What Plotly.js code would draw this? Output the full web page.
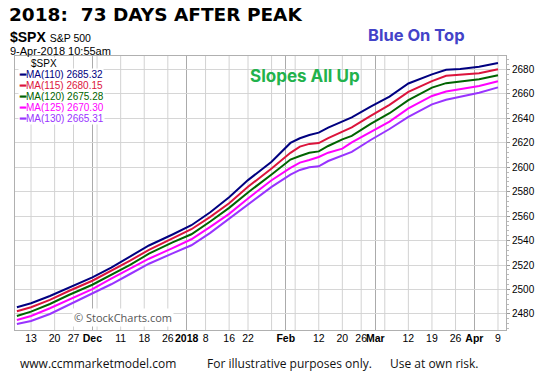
<!DOCTYPE html>
<html>
<head>
<meta charset="utf-8">
<script src="https://cdn.plot.ly/plotly-3.0.1.min.js"></script>
<style>html,body{margin:0;padding:0;background:#fff;}#chart{width:548px;height:376px;}</style>
</head>
<body>
<div id="chart"></div>
<script>
// ---- data ----
const sampleDates = ['2017-11-08','2017-11-13','2017-11-17','2017-11-24','2017-12-01','2017-12-07','2017-12-13','2017-12-19','2017-12-27','2018-01-03','2018-01-09','2018-01-16','2018-01-22','2018-01-29','2018-02-02','2018-02-06','2018-02-08','2018-02-12','2018-02-14','2018-02-20','2018-02-22','2018-02-28','2018-03-06','2018-03-12','2018-03-19','2018-03-22','2018-03-27','2018-04-03','2018-04-09'];
const ma110 = [2485.5,2488.8,2494.7,2501.5,2510.0,2518.0,2526.9,2536.0,2545.0,2552.6,2563.2,2575.5,2589.5,2604.5,2619.9,2623.7,2626.4,2628.3,2632.5,2637.8,2640.8,2649.6,2657.8,2668.5,2676.0,2679.7,2680.4,2682.3,2685.32];
const ma115 = [2482.2,2485.5,2491.5,2498.8,2507.2,2515.2,2523.6,2532.5,2542.0,2549.3,2559.4,2570.5,2584.0,2599.0,2611.8,2616.9,2619.1,2619.8,2623.9,2628.8,2632.6,2642.0,2651.0,2661.6,2670.5,2674.8,2675.5,2676.9,2680.15];
const ma120 = [2478.4,2481.9,2488.2,2495.5,2503.9,2511.9,2520.1,2529.3,2538.6,2545.2,2555.6,2566.8,2579.4,2594.1,2606.3,2609.2,2611.9,2613.0,2617.4,2622.8,2625.7,2635.4,2644.2,2654.9,2665.1,2668.8,2670.0,2672.0,2675.28];
const ma125 = [2475.1,2478.4,2484.7,2491.5,2500.4,2509.0,2516.8,2525.2,2533.9,2541.1,2551.2,2561.9,2574.5,2589.4,2599.5,2603.8,2606.0,2608.4,2611.9,2615.2,2620.3,2629.1,2637.3,2648.1,2658.3,2661.9,2663.8,2666.5,2670.30];
const ma130 = [2471.8,2474.3,2480.0,2487.4,2496.3,2504.3,2512.7,2521.1,2529.6,2536.2,2546.3,2557.8,2569.5,2584.0,2594.0,2597.8,2600.0,2600.8,2605.1,2609.7,2612.6,2622.3,2631.3,2641.2,2651.5,2655.2,2657.8,2661.0,2665.31];
const periods = [110,115,120,125,130];
const seriesColors = ['#000080','#dc143c','#006400','#ff00ff','#9933ff'];

const holidays = ['2017-11-23','2017-12-25','2018-01-01','2018-01-15','2018-02-19','2018-03-30'];
const tickDates = ['2017-11-13','2017-11-20','2017-11-27','2017-12-01','2017-12-11','2017-12-18','2017-12-26','2018-01-02','2018-01-08','2018-01-16','2018-01-22','2018-02-01','2018-02-12','2018-02-20','2018-02-26','2018-03-01','2018-03-12','2018-03-19','2018-03-26','2018-04-02','2018-04-09'];
const tickLabels = ['13','20','27','<b>Dec</b>','11','18','26','<b>2018</b>','8','16','22','<b>Feb</b>','12','20','26','<b>Mar</b>','12','19','26','<b>Apr</b>','9'];
const weekGrid = ['2017-11-13','2017-11-20','2017-11-27','2017-12-04','2017-12-11','2017-12-18','2017-12-26','2018-01-02','2018-01-08','2018-01-16','2018-01-22','2018-01-29','2018-02-05','2018-02-12','2018-02-20','2018-02-26','2018-03-05','2018-03-12','2018-03-19','2018-03-26','2018-04-02','2018-04-09'];
const monthGrid = ['2017-12-01','2018-01-02','2018-02-01','2018-03-01','2018-04-02'];

const allSeries = [ma110, ma115, ma120, ma125, ma130];

// one minute past midnight so that lines on the first day after a break are kept
const atOpen = d => d + ' 00:01';

const xRange = ['2017-11-07 14:24','2018-04-10 16:48'];
const yRange = [2466.9, 2691.0];
const rb = [{bounds:['sat','mon']},{values:holidays}];

const traces = [];
// weekly grid lines as a thin grey trace under the data lines
const wk = weekGrid.filter(d => monthGrid.indexOf(d) < 0);
const gx = [], gy = [];
wk.forEach(d => { gx.push(atOpen(d), atOpen(d), null); gy.push(yRange[0], yRange[1], null); });
traces.push({type:'scatter',mode:'lines',x:gx,y:gy,connectgaps:false,line:{color:'#d2d2d2',width:1},hoverinfo:'skip',showlegend:false});
// invisible helper so the tick-label axis gets drawn
traces.push({type:'scatter',mode:'lines',x:sampleDates,y:ma110,xaxis:'x2',line:{width:0},opacity:0,showlegend:false,hoverinfo:'skip'});
allSeries.forEach((s,i)=>traces.push({
  type:'scatter', mode:'lines', x:sampleDates, y:s,
  line:{color:seriesColors[i], width:2}, hoverinfo:'skip', showlegend:false
}));

const px = X => (X-15)/491;
const py = Y => (330-Y)/274;
const annotations = [];
const A = (o)=>annotations.push(Object.assign({xref:'paper',yref:'paper',showarrow:false,xanchor:'left',yanchor:'middle'},o));

A({x:px(7),y:py(14),text:'<b>2018:  73 DAYS AFTER PEAK</b>',font:{family:'DejaVu Sans, sans-serif',size:18.5,color:'#000'}});
A({x:px(8),y:py(37),text:'<b>$SPX</b> <span style="font-size:10.5px">S&amp;P 500</span>',font:{family:'Liberation Sans, Arial, sans-serif',size:14,color:'#000'}});
A({x:px(8),y:py(51),text:'9-Apr-2018 10:55am',font:{family:'Liberation Sans, Arial, sans-serif',size:11,color:'#000'}});
A({x:px(416),y:py(35),xanchor:'center',text:'<b>Blue On Top</b>',font:{family:'Inter, Open Sans, sans-serif',size:16.5,color:'#4343c8'}});
A({x:px(305),y:py(76),xanchor:'center',text:'<b>Slopes All Up</b>',font:{family:'Inter, Open Sans, sans-serif',size:17,color:'#22b24c'}});
A({x:px(30),y:py(63),text:'$SPX',font:{family:'Liberation Sans, Arial, sans-serif',size:10,color:'#000'},bgcolor:'#fff',borderpad:0});
const rowY = [74,85.3,96.7,107.3,118.3];
periods.forEach((p,i)=>{
  const s = allSeries[i];
  A({x:px(18),y:py(rowY[i]),text:'<b>━</b>MA('+p+') '+s[s.length-1].toFixed(2),
     font:{family:'Liberation Sans, Arial, sans-serif',size:10,color:seriesColors[i]},bgcolor:'#fff',borderpad:0});
});
A({x:px(123),y:py(317),xanchor:'center',text:'© StockCharts.com',font:{family:'Open Sans, sans-serif',size:11,color:'#555'},bgcolor:'#fff'});
A({x:px(18),y:py(363),text:'www.ccmmarketmodel.com',font:{family:'Open Sans, sans-serif',size:12,color:'#111'}});
A({x:px(205),y:py(363),text:'For illustrative purposes only.',font:{family:'Open Sans, sans-serif',size:12,color:'#111'}});
A({x:px(388),y:py(363),text:'Use at own risk.',font:{family:'Open Sans, sans-serif',size:12,color:'#111'}});

const layout = {
  width:548, height:376,
  margin:{l:15,r:42,t:56,b:46},
  paper_bgcolor:'#fff', plot_bgcolor:'#fff',
  showlegend:false,
  xaxis:{type:'date',range:xRange,rangebreaks:rb,tickmode:'array',tickvals:monthGrid.map(atOpen),showticklabels:false,
    showgrid:true,gridcolor:'#ababab',gridwidth:1,zeroline:false,ticks:'',
    showline:true,mirror:true,linecolor:'#b0b0b0',linewidth:1,fixedrange:true},
  xaxis2:{type:'date',overlaying:'x',matches:'x',range:xRange,rangebreaks:rb,tickmode:'array',tickvals:tickDates.map(atOpen),ticktext:tickLabels,tickangle:0,
    showgrid:false,zeroline:false,ticks:'',showline:false,side:'bottom',
    tickfont:{family:'Liberation Sans, Arial, sans-serif',size:10.5,color:'#000'}},
  yaxis:{side:'right',range:yRange,tickmode:'linear',tick0:2480,dtick:20,ticks:'outside',ticklen:3,tickcolor:'#999',
    showgrid:true,gridcolor:'#d6d6d6',zeroline:false,showline:true,mirror:true,linecolor:'#b0b0b0',
    tickfont:{family:'Liberation Sans, Arial, sans-serif',size:10,color:'#000'},
    minor:{ticks:'outside',ticklen:2,dtick:4,tickcolor:'#bbb',showgrid:false},fixedrange:true},
  annotations:annotations
};
Plotly.newPlot('chart',traces,layout,{staticPlot:true,displayModeBar:false});
</script>
</body>
</html>
